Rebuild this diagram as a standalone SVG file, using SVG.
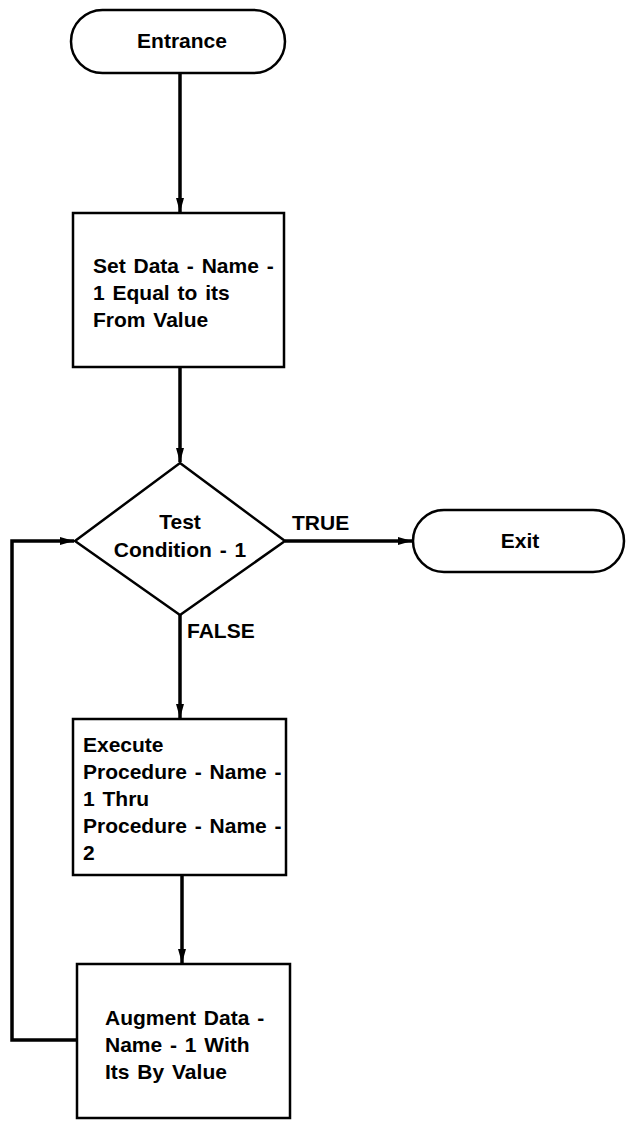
<svg xmlns="http://www.w3.org/2000/svg" width="628" height="1121" viewBox="0 0 628 1121">
  <style>
    .shape { fill: #fff; stroke: #000; stroke-width: 2.5; }
    .edge { fill: none; stroke: #000; stroke-width: 3.5; }
    .lbl { font-family: "Liberation Sans", Arial, sans-serif; font-weight: bold; font-size: 21px; fill: #000; }
    .mid { text-anchor: middle; }
    .wide { word-spacing: 2px; }
  </style>
  <defs>
    <marker id="arrow" viewBox="0 0 14 8" refX="14" refY="4" markerWidth="14" markerHeight="8" markerUnits="userSpaceOnUse" orient="auto">
      <path d="M0,0 L14,4 L0,8 Z" fill="#000"/>
    </marker>
  </defs>
  <rect width="628" height="1121" fill="#fff"/>

  <g id="connectors">
    <line class="edge" x1="180" y1="73" x2="180" y2="212" marker-end="url(#arrow)"/>
    <line class="edge" x1="180" y1="367" x2="180" y2="462" marker-end="url(#arrow)"/>
    <line class="edge" x1="180" y1="615" x2="180" y2="718" marker-end="url(#arrow)"/>
    <line class="edge" x1="182" y1="875" x2="182" y2="963" marker-end="url(#arrow)"/>
    <line class="edge" x1="285" y1="541" x2="412" y2="541" marker-end="url(#arrow)"/>
    <polyline class="edge" points="77,1040 12,1040 12,541 74,541" marker-end="url(#arrow)"/>
    <text class="lbl" x="292" y="530">TRUE</text>
    <text class="lbl" x="187" y="638">FALSE</text>
  </g>

  <g id="entrance">
    <rect class="shape" x="71" y="10" width="214" height="63" rx="31.5" ry="31.5"/>
    <text class="lbl mid" x="182" y="48">Entrance</text>
  </g>

  <g id="set-data">
    <rect class="shape" x="73" y="213" width="211" height="154"/>
    <text class="lbl wide" x="93" y="273">Set Data - Name -</text>
    <text class="lbl wide" x="93" y="300">1 Equal to its</text>
    <text class="lbl wide" x="93" y="327">From Value</text>
  </g>

  <g id="test-condition">
    <polygon class="shape" points="180,463 285,541 180,615 75,541"/>
    <text class="lbl mid" x="180" y="529">Test</text>
    <text class="lbl mid wide" x="180" y="557">Condition - 1</text>
  </g>

  <g id="exit">
    <rect class="shape" x="413" y="510" width="211" height="62" rx="31" ry="31"/>
    <text class="lbl mid" x="520" y="548">Exit</text>
  </g>

  <g id="execute">
    <rect class="shape" x="73" y="719" width="213" height="156"/>
    <text class="lbl" x="83" y="752">Execute</text>
    <text class="lbl wide" x="83" y="779">Procedure - Name -</text>
    <text class="lbl wide" x="83" y="806">1 Thru</text>
    <text class="lbl wide" x="83" y="833">Procedure - Name -</text>
    <text class="lbl" x="83" y="860">2</text>
  </g>

  <g id="augment">
    <rect class="shape" x="77" y="964" width="213" height="154"/>
    <text class="lbl wide" x="105" y="1025">Augment Data -</text>
    <text class="lbl wide" x="105" y="1052">Name - 1 With</text>
    <text class="lbl wide" x="105" y="1079">Its By Value</text>
  </g>
</svg>
